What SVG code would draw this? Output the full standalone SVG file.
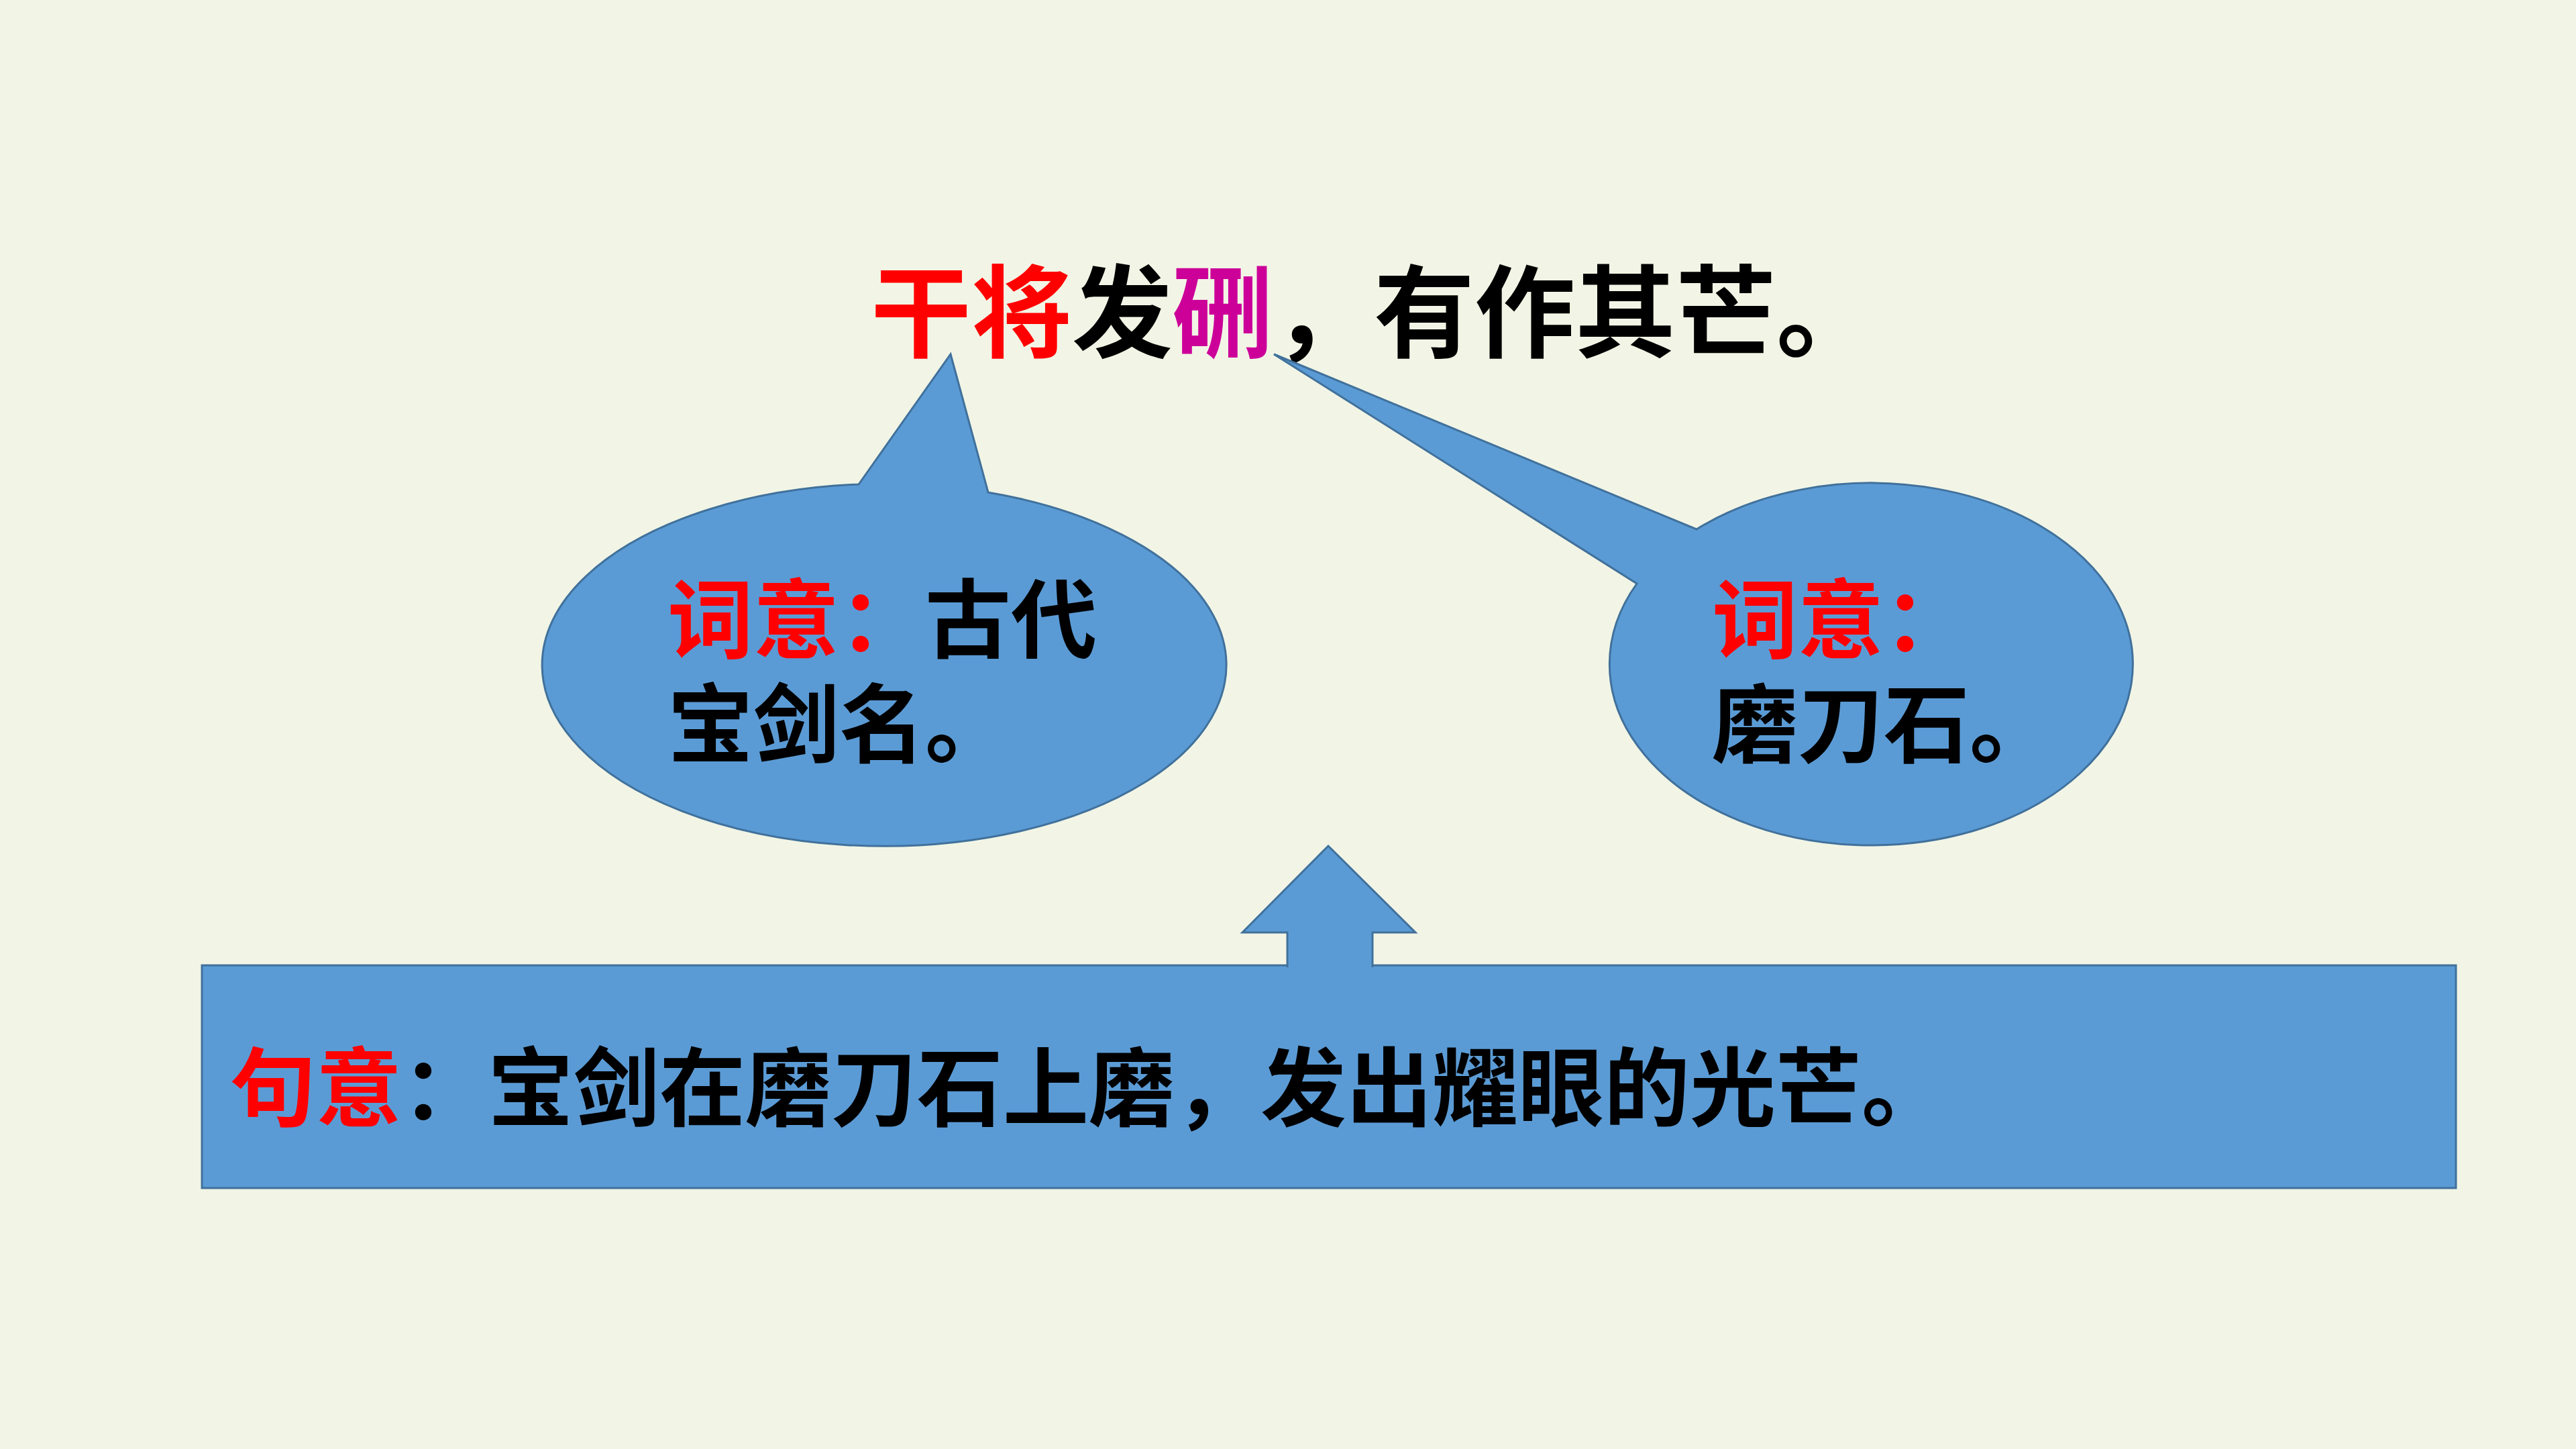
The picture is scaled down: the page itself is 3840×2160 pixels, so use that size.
<svg xmlns="http://www.w3.org/2000/svg" width="3840" height="2160" viewBox="0 0 3840 2160">
<style>
.shape{fill:#5B9BD5;stroke:#41719C;stroke-width:3}
.t{font-family:"Noto Sans CJK SC","Noto Sans CJK TC",sans-serif;font-weight:700;fill:#000000}
.red{fill:#FF0000}
.mag{fill:#CC0099}
</style>
<rect x="0" y="0" width="3840" height="2160" fill="#F2F5E5"/>
<g id="title">
<text class="t" x="1298" y="521" font-size="150"><tspan class="red">干将</tspan>发<tspan class="mag">硎</tspan>，有作其芒。</text>
</g>
<g id="bubble-left">
<path class="shape" d="M1417 528 L1473 734 A510 270 0 1 1 1280 722 Z"/>
<text class="t" font-size="128"><tspan x="995" y="971"><tspan class="red">词意：</tspan>古代</tspan><tspan x="995" y="1127">宝剑名。</tspan></text>
</g>
<g id="bubble-right">
<path class="shape" d="M1899 528 L2529 789 A390 270 0 1 1 2440 870 Z"/>
<text class="t" font-size="128"><tspan class="red" x="2552" y="971">词意：</tspan><tspan x="2552" y="1127">磨刀石。</tspan></text>
</g>
<g id="sentence-box">
<rect class="shape" x="301" y="1439" width="3360" height="332"/>
<text class="t" x="343" y="1669" font-size="128"><tspan class="red">句意</tspan>：宝剑在磨刀石上磨，发出耀眼的光芒。</text>
</g>
<g id="connectors">
<path class="shape" d="M1919 1442 L1919 1390 L1852 1390 L1980 1261 L2110 1390 L2046 1390 L2046 1442"/>
</g>
</svg>
